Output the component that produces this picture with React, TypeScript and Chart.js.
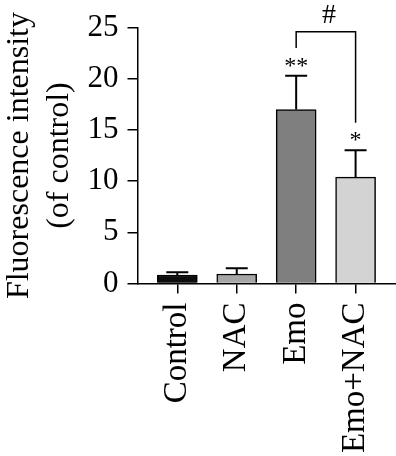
import React, { useEffect, useRef } from "react";
import { Chart, registerables } from "chart.js";

Chart.register(...registerables);

const categories = ["Control", "NAC", "Emo", "Emo+NAC"];
const means = [0.83, 0.93, 17.0, 10.4];
const errors = [0.26, 0.55, 3.3, 2.62];
const barColors = ["#0d0d0d", "#a6a6a6", "#7f7f7f", "#d3d3d3"];
const stars = ["", "", "**", "*"];
const yTicks = [0, 5, 10, 15, 20, 25];
// significance bracket: between category indexes, top value, leg end values
const bracketIdx = [2, 3];
const bracketVals = [24.6, 23.0, 15.7];
const bracketLabel = "#";

const FONT = "'Liberation Serif', 'Times New Roman', serif";

export default function App() {
  const ref = useRef<HTMLCanvasElement | null>(null);

  useEffect(() => {
    if (!ref.current) return;
    document.body.style.margin = "0";

    const annot = {
      id: "annot",
      afterDatasetsDraw(chart: any) {
        const ctx = chart.ctx;
        const xs = chart.scales.x;
        const ys = chart.scales.y;
        ctx.save();
        ctx.strokeStyle = "#000";
        ctx.fillStyle = "#000";
        // error bars
        ctx.lineWidth = 2;
        means.forEach((m, i) => {
          const x = xs.getPixelForValue(i);
          const y0 = ys.getPixelForValue(m);
          const y1 = ys.getPixelForValue(m + errors[i]);
          ctx.beginPath();
          ctx.moveTo(x, y0);
          ctx.lineTo(x, y1);
          ctx.moveTo(x - 11, y1);
          ctx.lineTo(x + 11, y1);
          ctx.stroke();
          if (stars[i]) {
            ctx.font = `24px ${FONT}`;
            ctx.textAlign = "center";
            ctx.textBaseline = "alphabetic";
            ctx.fillText(stars[i], x, y1 - 3);
          }
        });
        // bracket
        const xa = xs.getPixelForValue(bracketIdx[0]);
        const xb = xs.getPixelForValue(bracketIdx[1]);
        const yt = ys.getPixelForValue(bracketVals[0]);
        const ya = ys.getPixelForValue(bracketVals[1]);
        const yb = ys.getPixelForValue(bracketVals[2]);
        ctx.lineWidth = 1.5;
        ctx.beginPath();
        ctx.moveTo(xa, ya);
        ctx.lineTo(xa, yt);
        ctx.lineTo(xb, yt);
        ctx.lineTo(xb, yb);
        ctx.stroke();
        ctx.font = `28px ${FONT}`;
        ctx.textAlign = "center";
        ctx.textBaseline = "alphabetic";
        ctx.fillText(bracketLabel, (xa + xb) / 2 + 3, yt - 9);
        ctx.restore();
      },
    };

    const chart = new Chart(ref.current, {
      type: "bar",
      data: {
        datasets: [
          {
            data: means.map((v, i) => ({ x: i, y: v })),
            backgroundColor: barColors,
            borderColor: "#000",
            borderWidth: 1.5,
            barThickness: 40,
          },
        ],
      },
      options: {
        animation: false,
        responsive: false,
        maintainAspectRatio: false,
        layout: { padding: { top: 27.5, left: 0, right: 0, bottom: 0 } },
        plugins: { legend: { display: false }, tooltip: { enabled: false } },
        scales: {
          x: {
            type: "linear",
            offset: false,
            min: -0.67,
            max: 3.68,
            afterBuildTicks: (axis: any) => {
              axis.ticks = categories.map((_, i) => ({ value: i }));
            },
            afterFit: (axis: any) => {
              axis.height = 456 - 283.5;
              axis.paddingLeft = 0;
              axis.paddingRight = 0;
            },
            ticks: {
              callback: (v: any) => categories[v as number] ?? "",
              minRotation: 90,
              maxRotation: 90,
              autoSkip: false,
              padding: 9,
              color: "#000",
              font: { family: FONT, size: 33 },
            },
            grid: {
              offset: false,
              drawOnChartArea: false,
              tickLength: 10,
              color: "#000",
              lineWidth: 1.5,
            },
            border: { color: "#000", width: 1.5 },
          },
          y: {
            min: 0,
            max: 25,
            afterBuildTicks: (axis: any) => {
              axis.ticks = yTicks.map((v) => ({ value: v }));
            },
            afterFit: (axis: any) => {
              axis.width = 137.5;
            },
            ticks: {
              padding: 9,
              color: "#000",
              font: { family: FONT, size: 31 },
            },
            grid: {
              drawOnChartArea: false,
              tickLength: 10,
              color: "#000",
              lineWidth: 1.5,
            },
            border: { color: "#000", width: 1.5 },
            title: {
              display: true,
              text: ["Fluorescence intensity", "(of control)"],
              color: "#000",
              font: { family: FONT, size: 32, lineHeight: 1.25 },
              padding: { top: 0, bottom: 0 },
            },
          },
        },
      },
      plugins: [annot],
    });
    return () => chart.destroy();
  }, []);

  return (
    <div style={{ position: "absolute", left: 0, top: 0, width: 396, height: 456, background: "#fff" }}>
      <canvas ref={ref} width={396} height={456} style={{ width: 396, height: 456, display: "block" }} />
    </div>
  );
}
